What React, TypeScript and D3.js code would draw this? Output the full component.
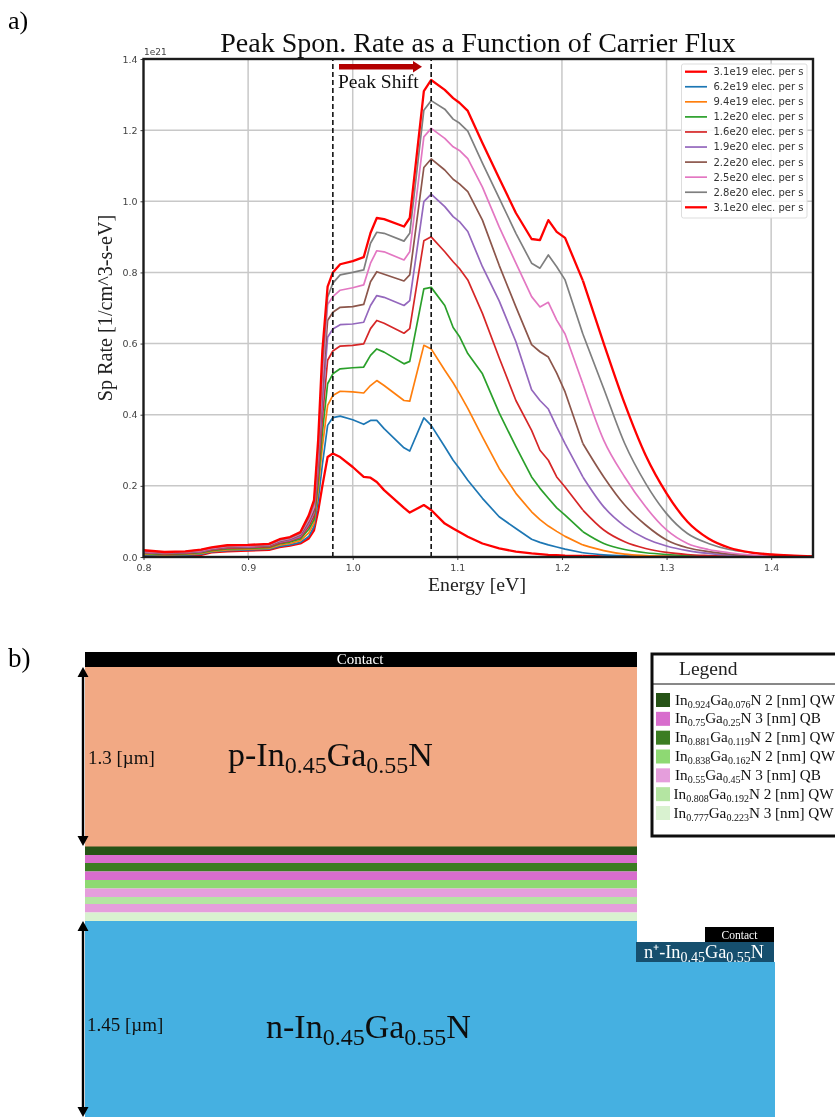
import React, { useEffect, useRef } from 'react'
import * as d3 from 'd3'

const SERIF = '"Liberation Serif", "Times New Roman", serif'
const SANS = '"DejaVu Sans", sans-serif'

// energy grid, eV
const energy = [
  0.8, 0.82, 0.84, 0.855, 0.865, 0.88, 0.9, 0.92, 0.93, 0.94, 0.95, 0.958, 0.963, 0.967, 0.971, 0.976,
  0.981, 0.988, 1.0, 1.0105, 1.017, 1.023, 1.03, 1.049, 1.0545, 1.068, 1.075, 1.088, 1.096, 1.102, 1.11, 1.124,
  1.14, 1.156, 1.171, 1.179, 1.187, 1.195, 1.203, 1.22, 1.24, 1.26, 1.28, 1.3, 1.32, 1.34, 1.36, 1.38, 1.4, 1.44
]
// index of 1.22 eV: the simulated curves are straight segments up to here, smooth after
const tailStart = 39

// rates in units of 1e21
const flux1 = [
  .004, .003, .004, .006, .013, .016, .018, .020, .028, .032, .038, .052, .075, .13, .20, .281,
  .291, .281, .253, .225, .223, .211, .188, .138, .125, .146, .132, .094, .08, .07, .057, .038,
  .024, .015, .010, .008, .006, .005, .004, .003, .002, .001, .001, .001, .001, .001, .001, .001, .001, .001
]
const flux2 = [
  .006, .004, .005, .008, .014, .018, .020, .022, .030, .034, .041, .058, .085, .16, .26, .37,
  .392, .396, .386, .373, .384, .384, .361, .307, .298, .391, .37, .31, .272, .249, .216, .165,
  .113, .08, .05, .041, .034, .028, .022, .012, .006, .003, .0015, .001, .001, .001, .001, .001, .001, .001
]
const flux3 = [
  .008, .006, .007, .010, .016, .020, .022, .024, .033, .038, .046, .068, .095, .19, .31, .426,
  .454, .466, .464, .461, .482, .496, .482, .44, .438, .595, .585, .525, .49, .46, .418, .338,
  .249, .179, .127, .105, .087, .072, .058, .034, .018, .008, .004, .002, .001, .001, .001, .001, .001, .001
]
const flux4 = [
  .010, .007, .009, .012, .018, .023, .024, .027, .037, .042, .051, .078, .105, .21, .35, .487,
  .515, .529, .532, .534, .567, .585, .576, .543, .55, .754, .758, .707, .645, .62, .572, .515,
  .405, .31, .225, .193, .165, .138, .118, .071, .038, .021, .012, .007, .004, .002, .001, .001, .001, .001
]
const flux5 = [
  .012, .009, .010, .014, .020, .025, .026, .029, .039, .045, .055, .086, .115, .23, .39, .553,
  .579, .593, .595, .599, .642, .665, .657, .629, .642, .889, .90, .858, .83, .811, .779, .685,
  .56, .44, .356, .30, .272, .225, .197, .132, .076, .043, .024, .013, .007, .004, .002, .001, .001, .001
]
const flux6 = [
  .013, .010, .012, .015, .022, .027, .028, .031, .042, .047, .058, .093, .125, .25, .43, .618,
  .641, .653, .655, .66, .707, .735, .73, .707, .721, .999, 1.02, .985, .957, .943, .915, .816,
  .72, .605, .47, .44, .416, .366, .319, .225, .141, .087, .052, .031, .018, .010, .005, .002, .001, .0005
]
const flux7 = [
  .015, .011, .013, .017, .023, .028, .030, .032, .044, .050, .062, .100, .13, .27, .47, .665,
  .688, .702, .704, .71, .774, .802, .795, .776, .793, 1.095, 1.119, 1.088, 1.062, 1.049, 1.027, .947,
  .82, .703, .597, .577, .562, .517, .464, .319, .225, .146, .09, .048, .026, .015, .008, .004, .002, .0005
]
const flux8 = [
  .016, .012, .014, .018, .024, .030, .031, .034, .046, .052, .065, .105, .14, .29, .50, .71,
  .732, .75, .757, .765, .826, .861, .858, .835, .858, 1.181, 1.205, 1.177, 1.153, 1.143, 1.12, 1.04,
  .928, .826, .732, .703, .716, .666, .627, .487, .328, .225, .141, .076, .038, .021, .012, .006, .003, .001
]
const flux9 = [
  .018, .013, .015, .020, .026, .032, .033, .035, .048, .054, .067, .111, .15, .31, .54, .73,
  .77, .793, .80, .807, .882, .913, .91, .888, .91, 1.256, 1.283, 1.259, 1.231, 1.22, 1.197, 1.107,
  1.009, .91, .826, .812, .849, .816, .779, .627, .473, .319, .207, .122, .066, .038, .021, .013, .007, .002
]
const flux10 = [
  .019, .014, .016, .021, .027, .033, .034, .037, .050, .056, .070, .117, .16, .33, .58, .76,
  .80, .823, .832, .843, .911, .953, .95, .929, .953, 1.31, 1.341, 1.313, 1.29, 1.277, 1.254, 1.164,
  1.065, .967, .894, .891, .947, .914, .897, .777, .60, .431, .286, .179, .099, .052, .026, .013, .007, .002
]

const allFlux = [flux1, flux2, flux3, flux4, flux5, flux6, flux7, flux8, flux9, flux10]
const fluxNames = ['3.1e19', '6.2e19', '9.4e19', '1.2e20', '1.6e20', '1.9e20', '2.2e20', '2.5e20', '2.8e20', '3.1e20']
const fluxColours = ['#ff0000', '#1f77b4', '#ff7f0e', '#2ca02c', '#d62728', '#9467bd', '#8c564b', '#e377c2', '#7f7f7f', '#ff0000']
const fluxWidths = [2.3, 1.7, 1.7, 1.7, 1.7, 1.7, 1.7, 1.7, 1.7, 2.3]

const xTicks = [0.8, 0.9, 1.0, 1.1, 1.2, 1.3, 1.4]
const yTicks = [0, 0.2, 0.4, 0.6, 0.8, 1.0, 1.2, 1.4]
const peakEnergies = [0.981, 1.075]

// layer stack of panel b, top to bottom
const stackColours = ['#275317', '#d86dcd', '#3b7d23', '#d86dcd', '#8ed973', '#e59edc', '#b4e5a2', '#e59edc', '#d9f2d0']
const stackEdges = [846.5, 855, 863, 871.5, 880, 888.5, 897, 904, 912.5, 921]

const layerIn = ['0.924', '0.75', '0.881', '0.838', '0.55', '0.808', '0.777']
const layerGa = ['0.076', '0.25', '0.119', '0.162', '0.45', '0.192', '0.223']
const layerNote = ['2 [nm] QW', '3 [nm] QB', '2 [nm] QW', '2 [nm] QW', '3 [nm] QB', '2 [nm] QW', '3 [nm] QW']
const layerSwatches = ['#275317', '#d86dcd', '#3b7d23', '#8ed973', '#e59edc', '#b4e5a2', '#d9f2d0']

function chem(parent, x, y, parts, size, subSize, subDrop, fill = '#000') {
  const t = parent.append('text')
    .attr('x', x).attr('y', y)
    .attr('font-family', SERIF).attr('font-size', size).attr('fill', fill)
  parts.forEach((p, i) => {
    const isSub = i % 2 === 1
    const prevSub = i > 0 && !isSub
    t.append('tspan')
      .attr('font-size', isSub ? subSize : size)
      .attr('dy', isSub ? subDrop : prevSub ? -subDrop : 0)
      .text(p)
  })
  return t
}

function drawChart(svg) {
  const x = d3.scaleLinear().domain([0.8, 1.44]).range([143.5, 813])
  const y = d3.scaleLinear().domain([0, 1.4]).range([557, 59])

  svg.append('text').text('a)')
    .attr('x', 8).attr('y', 29).attr('font-family', SERIF).attr('font-size', 26)

  svg.append('text').text('Peak Spon. Rate as a Function of Carrier Flux')
    .attr('x', 478).attr('y', 52).attr('text-anchor', 'middle')
    .attr('font-family', SERIF).attr('font-size', 28).attr('fill', '#111')

  // grid
  svg.append('g').selectAll('line').data(xTicks.slice(1)).enter().append('line')
    .attr('x1', d => x(d)).attr('x2', d => x(d)).attr('y1', y(0)).attr('y2', y(1.4))
    .attr('stroke', '#c8c8c8').attr('stroke-width', 1.5)
  svg.append('g').selectAll('line').data(yTicks.slice(1)).enter().append('line')
    .attr('x1', x(0.8)).attr('x2', x(1.44)).attr('y1', d => y(d)).attr('y2', d => y(d))
    .attr('stroke', '#c8c8c8').attr('stroke-width', 1.5)

  const head = d3.line().x(d => x(d[0])).y(d => y(d[1]))
  const tail = d3.line().x(d => x(d[0])).y(d => y(d[1])).curve(d3.curveMonotoneX)
  const curves = svg.append('g').selectAll('g').data(allFlux).enter().append('g')
    .attr('fill', 'none')
    .attr('stroke', (d, i) => fluxColours[i])
    .attr('stroke-width', (d, i) => fluxWidths[i])
    .attr('stroke-linejoin', 'round')
  curves.append('path').attr('d', d => head(d3.zip(energy, d).slice(0, tailStart + 1)))
  curves.append('path').attr('d', d => tail(d3.zip(energy, d).slice(tailStart)))

  // peak markers
  svg.append('g').selectAll('line').data(peakEnergies).enter().append('line')
    .attr('x1', d => x(d)).attr('x2', d => x(d)).attr('y1', y(0)).attr('y2', y(1.4))
    .attr('stroke', '#111').attr('stroke-width', 1.6).attr('stroke-dasharray', '5,3')

  // axes
  const axisX = svg.append('g').attr('transform', `translate(0,${y(0)})`)
    .call(d3.axisBottom(x).tickValues(xTicks).tickFormat(d3.format('.1f')).tickSize(3).tickPadding(4))
  const axisY = svg.append('g').attr('transform', `translate(${x(0.8)},0)`)
    .call(d3.axisLeft(y).tickValues(yTicks).tickFormat(d3.format('.1f')).tickSize(3).tickPadding(3))
  ;[axisX, axisY].forEach(g => {
    g.select('.domain').remove()
    g.selectAll('.tick text').attr('font-family', SANS).attr('font-size', 9.5).attr('fill', '#444')
    g.selectAll('.tick line').attr('stroke', '#444')
  })

  svg.append('rect')
    .attr('x', x(0.8)).attr('y', y(1.4))
    .attr('width', x(1.44) - x(0.8)).attr('height', y(0) - y(1.4))
    .attr('fill', 'none').attr('stroke', '#1c1c1c').attr('stroke-width', 2.4)

  svg.append('text').text('1e21')
    .attr('x', 144).attr('y', 55).attr('font-family', SANS).attr('font-size', 9).attr('fill', '#444')

  svg.append('text').text('Energy [eV]')
    .attr('x', 477).attr('y', 591).attr('text-anchor', 'middle')
    .attr('font-family', SERIF).attr('font-size', 19.8).attr('fill', '#222')
  svg.append('text').text('Sp Rate [1/cm^3-s-eV]')
    .attr('transform', 'translate(112,308) rotate(-90)').attr('text-anchor', 'middle')
    .attr('font-family', SERIF).attr('font-size', 20.2).attr('fill', '#222')

  // peak shift arrow
  svg.append('rect').attr('x', 339).attr('y', 64).attr('width', 75).attr('height', 5.5).attr('fill', '#b30006')
  svg.append('path').attr('d', 'M413,61L422,66.7L413,72.4Z').attr('fill', '#b30006')
  svg.append('text').text('Peak Shift')
    .attr('x', 338).attr('y', 88).attr('font-family', SERIF).attr('font-size', 19.5).attr('fill', '#111')

  // legend
  svg.append('rect')
    .attr('x', 681.5).attr('y', 64).attr('width', 125.5).attr('height', 154).attr('rx', 2)
    .attr('fill', '#fff').attr('fill-opacity', 0.85).attr('stroke', '#ddd')
  const rowY = d3.scalePoint().domain(fluxNames.map((d, i) => i)).range([71.7, 207.3])
  const rows = svg.append('g').selectAll('g').data(fluxNames).enter().append('g')
    .attr('transform', (d, i) => `translate(0,${rowY(i)})`)
  rows.append('line')
    .attr('x1', 685).attr('x2', 707)
    .attr('stroke', (d, i) => fluxColours[i])
    .attr('stroke-width', (d, i) => fluxWidths[i])
  rows.append('text').text(d => `${d} elec. per s`)
    .attr('x', 713.5).attr('y', 3.4)
    .attr('font-family', SANS).attr('font-size', 10).attr('fill', '#333')
}

function drawStack(svg) {
  svg.append('text').text('b)')
    .attr('x', 8).attr('y', 667).attr('font-family', SERIF).attr('font-size', 27)

  // blue base and p cap
  svg.append('rect').attr('x', 85).attr('y', 667).attr('width', 552).attr('height', 180).attr('fill', '#f2a984')
  svg.append('rect').attr('x', 85).attr('y', 921).attr('width', 552).attr('height', 196).attr('fill', '#45b0e1')
  svg.append('rect').attr('x', 637).attr('y', 962).attr('width', 138).attr('height', 155).attr('fill', '#45b0e1')

  svg.append('g').selectAll('rect').data(stackColours).enter().append('rect')
    .attr('x', 85).attr('width', 552)
    .attr('y', (d, i) => stackEdges[i])
    .attr('height', (d, i) => stackEdges[i + 1] - stackEdges[i])
    .attr('fill', d => d)

  // contacts
  svg.append('rect').attr('x', 85).attr('y', 652).attr('width', 552).attr('height', 15).attr('fill', '#000')
  svg.append('text').text('Contact')
    .attr('x', 360).attr('y', 664).attr('text-anchor', 'middle')
    .attr('font-family', SERIF).attr('font-size', 15).attr('fill', '#fff')
  svg.append('rect').attr('x', 705).attr('y', 927).attr('width', 69).attr('height', 15).attr('fill', '#000')
  svg.append('text').text('Contact')
    .attr('x', 739.5).attr('y', 939).attr('text-anchor', 'middle')
    .attr('font-family', SERIF).attr('font-size', 11.5).attr('fill', '#fff')
  svg.append('rect').attr('x', 636).attr('y', 942).attr('width', 138).attr('height', 20).attr('fill', '#124f6e')
  chem(svg, 644, 958, ['n⁺-In', '0.45', 'Ga', '0.55', 'N'], 18.3, 14, 3.5, '#fff')

  // thickness arrows
  svg.append('path').attr('d', 'M83,672V842M83,926V1112').attr('stroke', '#000').attr('stroke-width', 2.4).attr('fill', 'none')
  svg.append('path')
    .attr('d', 'M83,667L77.5,677H88.5ZM83,846L77.5,836H88.5ZM83,921L77.5,931H88.5ZM83,1117L77.5,1107H88.5Z')
    .attr('fill', '#000')

  svg.append('text').text('1.3 [µm]')
    .attr('x', 88).attr('y', 764).attr('font-family', SERIF).attr('font-size', 19).attr('fill', '#111')
  svg.append('text').text('1.45 [µm]')
    .attr('x', 87).attr('y', 1031).attr('font-family', SERIF).attr('font-size', 19).attr('fill', '#111')

  chem(svg, 228, 766, ['p-In', '0.45', 'Ga', '0.55', 'N'], 34, 24, 7, '#111')
  chem(svg, 266, 1038, ['n-In', '0.45', 'Ga', '0.55', 'N'], 34, 24, 7, '#111')

  // legend box
  svg.append('rect').attr('x', 652).attr('y', 654).attr('width', 190).attr('height', 182)
    .attr('fill', '#fff').attr('stroke', '#111').attr('stroke-width', 3)
  svg.append('line').attr('x1', 653).attr('x2', 835).attr('y1', 684).attr('y2', 684).attr('stroke', '#111')
  svg.append('text').text('Legend')
    .attr('x', 679).attr('y', 675).attr('font-family', SERIF).attr('font-size', 19.5).attr('fill', '#222')

  const rowY = d3.scaleLinear().domain([0, 6]).range([700, 813])
  layerIn.forEach((d, i) => {
    svg.append('rect')
      .attr('x', 656).attr('y', rowY(i) - 7).attr('width', 14).attr('height', 14)
      .attr('fill', layerSwatches[i])
    chem(svg, i < 5 ? 675 : 673.5, rowY(i) + 4.5,
      ['In', d, 'Ga', layerGa[i], `N ${layerNote[i]}`], 15.2, 10, 3, '#111')
  })
}

export default function App() {
  const ref = useRef(null)

  useEffect(() => {
    const svg = d3.select(ref.current)
    svg.selectAll('*').remove()
    svg.append('defs').append('filter').attr('id', 'soft')
      .attr('x', 0).attr('y', 0).attr('width', 1).attr('height', 1)
      .append('feGaussianBlur').attr('stdDeviation', 0.45)
    const root = svg.append('g').attr('filter', 'url(#soft)')
    root.append('rect').attr('width', 835).attr('height', 1117).attr('fill', '#fff')
    drawChart(root)
    drawStack(root)
  }, [])

  return (
    <svg
      ref={ref}
      width={835}
      height={1117}
      style={{ position: 'absolute', left: 0, top: 0, display: 'block', background: '#fff' }}
    />
  )
}
